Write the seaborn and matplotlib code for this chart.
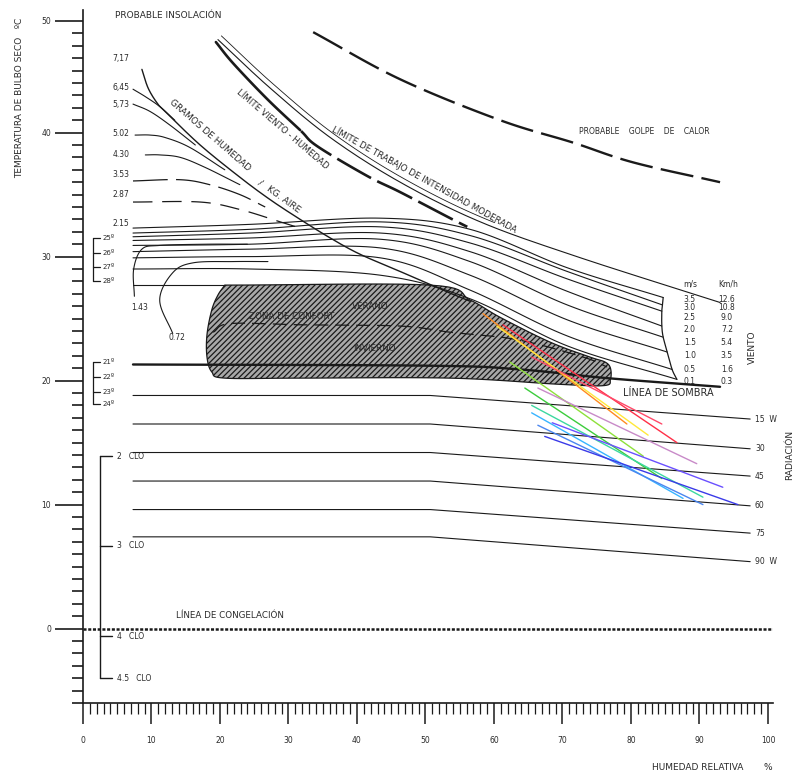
import numpy as np
import pandas as pd
import matplotlib
matplotlib.use("Agg")
import matplotlib.pyplot as plt
import seaborn as sns

sns.set_theme(style="white")
plt.rcParams['font.family'] = ['DejaVu Sans']
plt.rcParams['lines.scale_dashes'] = False
plt.rcParams['hatch.linewidth'] = 0.9
plt.rcParams['hatch.color'] = '#111111'

# ---------------- data (RH %, T ºC) ----------------
golpe_rh = [33.6, 46.3, 60.9, 71.5, 80.3, 93.0]
golpe_t = [48.1, 44.3, 41.0, 39.2, 37.6, 36.0]

viento_hum_rh = [19.4, 21.9, 26.9, 31.7, 34.2, 41.5, 46.3, 53.6, 56.1]
viento_hum_t = [47.3, 45.6, 42.7, 40.2, 38.9, 36.5, 35.2, 33.1, 32.4]

trabajo_rh = [19.7, 27.3, 36.1, 46.3, 58.0, 72.1, 93.0]
trabajo_t = [47.5, 43.6, 39.6, 36.0, 32.8, 30.0, 26.3]

diag_rh = [8.6, 9.5, 10.8, 12.0, 17.1, 22.9, 27.3, 31.7, 36.1, 40.4, 46.3, 52.1, 56.5]
diag_t = [45.1, 43.6, 42.4, 41.7, 39.0, 36.4, 34.6, 33.0, 31.5, 30.2, 28.8, 27.4, 26.4]

hum_labels = ["7,17", "6,45", "5,73", "5.02", "4.30", "3.53", "2.87", "2.15"]
hum_label_t = [46.0, 43.6, 42.3, 39.9, 38.2, 36.6, 35.0, 32.7]
hum_curves = {
    "6,45": ([7.3, 9.1, 11.2, 13.4], [43.5, 42.9, 42.1, 41.0]),
    "5,73": ([7.3, 9.8, 12.7, 16.4], [42.3, 41.7, 40.6, 39.0]),
    "5.02": ([7.6, 9.8, 12.0, 15.6, 20.7], [39.8, 39.8, 39.6, 38.8, 37.0]),
    "4.30": ([9.1, 11.2, 14.2, 17.8, 22.9], [38.2, 38.2, 38.0, 37.2, 35.8]),
    "3.53": ([7.3, 14.2, 18.5, 22.9, 26.6], [36.1, 36.2, 35.8, 35.0, 34.0]),
    "2.87": ([7.3, 17.1, 22.9, 28.8, 31.7], [34.4, 34.4, 33.8, 32.8, 32.3]),
}
c143_rh = [7.5, 7.4, 8.6, 11.2, 18.0, 24.0]
c143_t = [26.8, 29.0, 30.6, 30.9, 31.0, 31.0]
c072_rh = [13.1, 11.2, 13.1, 16.1, 22.0, 27.0]
c072_t = [23.8, 26.5, 28.7, 29.5, 29.6, 29.6]

viento_ms = ["3.5", "3.0", "2.5", "2.0", "1.5", "1.0", "0.5", "0.1"]
viento_kmh = ["12.6", "10.8", "9.0", "7.2", "5.4", "3.5", "1.6", "0.3"]
viento_rh = [7.3, 24.4, 43.4, 56.5, 70.7]
viento_t = [
    [32.3, 32.6, 33.1, 32.2, 29.1],
    [31.9, 32.2, 32.8, 31.7, 28.8],
    [31.6, 31.9, 32.4, 31.1, 28.2],
    [31.3, 31.5, 31.9, 30.4, 27.2],
    [30.9, 31.0, 31.4, 29.6, 26.1],
    [30.4, 30.6, 30.7, 28.5, 24.9],
    [29.9, 30.0, 29.9, 27.3, 23.6],
    [29.0, 29.0, 28.5, 26.6, 22.8],
]
viento_end_rh = [84.7, 84.6, 84.5, 84.5, 84.7, 85.3, 86.0, 86.7]
viento_end_t = [26.7, 26.1, 25.6, 24.4, 23.5, 22.3, 20.9, 20.1]
viento_lbl_t = [26.5, 25.9, 25.1, 24.1, 23.1, 22.0, 20.9, 19.9]

confort_rh = [20.7, 50.7, 56.5, 60.9, 68.2, 74.0, 76.2, 77.0, 77.0, 76.1, 69.6,
              53.6, 31.7, 20.7, 18.8, 18.1, 18.1, 18.8, 19.7]
confort_t = [27.7, 27.7, 26.5, 25.1, 23.1, 21.9, 21.5, 21.0, 20.1, 19.6, 19.7,
             20.2, 20.2, 20.2, 20.7, 21.9, 23.7, 25.7, 26.9]
divisor_rh = [19.0, 21.5, 31.7, 46.3, 53.6, 63.4, 73.0, 76.5]
divisor_t = [23.9, 24.6, 24.5, 24.4, 23.9, 23.3, 21.9, 21.1]

sombra_rh = [7.3, 50.7, 63.8, 76.5, 93.0]
sombra_t = [21.3, 21.2, 20.9, 20.2, 19.5]

rad_labels = ["15  W", "30", "45", "60", "75", "90  W"]
rad_rh = [7.3, 50.7, 97.4]
rad_t_left = [18.8, 16.5, 14.2, 11.9, 9.6, 7.4]
rad_t_right = [16.9, 14.5, 12.3, 9.9, 7.7, 5.4]

temp_sup = ["25º", "26º", "27º", "28º"]
temp_sup_t = [31.5, 30.3, 29.2, 28.0]
temp_inf = ["21º", "22º", "23º", "24º"]
temp_inf_t = [21.5, 20.3, 19.1, 18.1]

clo_labels = ["2   CLO", "3   CLO", "4   CLO", "4.5   CLO"]
clo_t = [13.9, 6.7, -0.6, -4.0]

meses = ["Ene", "Feb", "Mar", "Abr", "May", "Jun", "Jul", "Ago", "Sep", "Oct", "Nov", "Dic"]
mes_rh_ini = [58.4, 60.4, 61.3, 65.5, 62.3, 64.5, 66.4, 65.5, 65.5, 66.4, 68.5, 67.4]
mes_t_ini = [25.4, 24.4, 24.5, 21.9, 21.5, 19.4, 19.4, 18.0, 17.4, 16.4, 16.6, 15.5]
mes_rh_fin = [79.4, 82.5, 86.7, 84.5, 81.8, 84.5, 89.6, 90.5, 87.6, 90.5, 93.4, 95.6]
mes_t_fin = [16.5, 15.6, 15.0, 16.5, 13.9, 12.1, 13.3, 10.6, 10.5, 10.0, 11.4, 10.0]
mes_colores = ["#ff8a20", "#ffe83a", "#ff3048", "#ff4a6a", "#8ee03a", "#3ccc3c",
               "#c88ac8", "#3cd8a0", "#38b4ff", "#4a86f0", "#6a50ff", "#3a3ae8"]


def smooth(xs, ys, n=24):
    pts = np.column_stack([xs, ys]).astype(float)
    if len(pts) < 3:
        return pts[:, 0], pts[:, 1]
    p = np.vstack([2 * pts[0] - pts[1], pts, 2 * pts[-1] - pts[-2]])
    out = []
    t = np.linspace(0, 1, n, endpoint=False)[:, None]
    for i in range(1, len(p) - 2):
        p0, p1, p2, p3 = p[i - 1], p[i], p[i + 1], p[i + 2]
        out.append(0.5 * (2 * p1 + (-p0 + p2) * t + (2 * p0 - 5 * p1 + 4 * p2 - p3) * t ** 2
                          + (-p0 + 3 * p1 - 3 * p2 + p3) * t ** 3))
    out.append(pts[-1:])
    o = np.vstack(out)
    return o[:, 0], o[:, 1]


K = '#1a1a1a'
tc = '#2a2a2a'
fig = plt.figure(figsize=(8.03, 7.73), dpi=100)
ax = fig.add_axes([83 / 803, 1 - 703 / 773, 690 / 803, 693 / 773])
ax.set_xlim(0, 690 / 6.85)
ax.set_ylim(-6, -6 + 693 / 12.4)
for s in ['top', 'right']:
    ax.spines[s].set_visible(False)
for s in ['left', 'bottom']:
    ax.spines[s].set_color(K)
    ax.spines[s].set_linewidth(1.2)

ax.set_yticks([0, 10, 20, 30, 40, 49])
ax.set_yticklabels(['0', '10', '20', '30', '40', '50'])
ax.set_yticks(np.arange(-6, 50, 1), minor=True)
ax.set_xticks(np.arange(0, 101, 10))
ax.set_xticks(np.arange(0, 101, 1), minor=True)
ax.tick_params(axis='y', which='major', direction='out', length=20, width=1.2, color=K,
               labelsize=5.5, pad=3, labelcolor=tc, left=True)
ax.tick_params(axis='y', which='minor', direction='out', length=8, width=1.2, color=K, left=True)
ax.tick_params(axis='x', which='major', direction='out', length=15, width=1.1, color=K,
               labelsize=5.5, pad=9, labelcolor=tc, bottom=True)
ax.tick_params(axis='x', which='minor', direction='out', length=8, width=0.9, color=K, bottom=True)

# comfort zone
ax.fill(*smooth(confort_rh + [confort_rh[0]], confort_t + [confort_t[0]], 10),
        facecolor='#a8a8a8', edgecolor=K, hatch='//////', linewidth=0.9, zorder=2)
x, y = smooth(divisor_rh, divisor_t)
ax.plot(x, y, color=K, lw=0.9, dashes=(10, 5), zorder=3)

# golpe de calor
x, y = smooth(golpe_rh, golpe_t)
ax.plot(x, y, color=K, lw=1.7, dashes=(24, 6))
# limite viento-humedad
x, y = smooth(viento_hum_rh, viento_hum_t)
m = x <= 31.7
ax.plot(x[m], y[m], color=K, lw=1.9)
ax.plot(x[~m], y[~m], color=K, lw=1.9, dashes=(28, 5))
# limite de trabajo
x, y = smooth(trabajo_rh, trabajo_t)
ax.plot(x, y, color=K, lw=0.8)
ax.plot(x[x < 60] + 0.5, y[x < 60] + 0.3, color=K, lw=0.6)

# humidity curves
x, y = smooth(diag_rh, diag_t)
ax.plot(x, y, color=K, lw=1.0)
for lbl, (hx, hy) in hum_curves.items():
    x, y = smooth(hx, hy)
    if lbl == "2.87":
        ax.plot(x, y, color=K, lw=0.9, dashes=(14, 7))
    elif lbl == "3.53":
        ax.plot(x, y, color=K, lw=0.9, dashes=(25, 6))
    else:
        ax.plot(x, y, color=K, lw=0.8)
for lbl, t in zip(hum_labels, hum_label_t):
    ax.text(5.5, t, lbl, fontsize=5.5, ha='center', va='center', color=tc)
for cx, cy in [(c143_rh, c143_t), (c072_rh, c072_t)]:
    x, y = smooth(cx, cy)
    ax.plot(x, y, color=K, lw=0.8)
ax.text(8.3, 25.9, "1.43", fontsize=5.5, ha='center', va='center', color=tc)
ax.text(13.7, 23.5, "0.72", fontsize=5.5, ha='center', va='center', color=tc)

# wind lines
for i, tt in enumerate(viento_t):
    x, y = smooth(viento_rh + [viento_end_rh[i]], tt + [viento_end_t[i]])
    ax.plot(x, y, color=K, lw=0.8)
x, y = smooth(viento_end_rh, viento_end_t)
ax.plot(x, y, color=K, lw=0.9)
ax.plot([7.3, 20.7], [27.7, 27.7], color=K, lw=0.8)
for ms, kmh, t in zip(viento_ms, viento_kmh, viento_lbl_t):
    ax.text(88.6, t, ms, fontsize=5.5, ha='center', va='center', color=tc)
    ax.text(94.0, t, kmh, fontsize=5.5, ha='center', va='center', color=tc)
ax.text(88.6, 27.8, "m/s", fontsize=5.5, ha='center', va='center', color=tc)
ax.text(94.2, 27.8, "Km/h", fontsize=5.5, ha='center', va='center', color=tc)
ax.text(97.7, 22.7, "VIENTO", fontsize=6.5, rotation=90, ha='center', va='center', color=tc)

# shadow line
x, y = smooth(sombra_rh, sombra_t)
ax.plot(x, y, color=K, lw=1.7, zorder=4)
ax.text(85.4, 19.0, "LÍNEA DE SOMBRA", fontsize=7, ha='center', va='center', color=tc)

# radiation lines
for lbl, tl, tr in zip(rad_labels, rad_t_left, rad_t_right):
    ax.plot(rad_rh, [tl, tl, tr], color=K, lw=0.8)
    ax.text(98.1, tr, lbl, fontsize=5.5, ha='left', va='center', color=tc)
ax.text(103.2, 14.0, "RADIACIÓN", fontsize=6.5, rotation=90, ha='center', va='center',
        color=tc, clip_on=False)

# temperature brackets
for labels, ts in [(temp_sup, temp_sup_t), (temp_inf, temp_inf_t)]:
    ax.plot([1.46, 1.46], [ts[0], ts[-1]], color=K, lw=0.9, clip_on=False)
    for lbl, t in zip(labels, ts):
        ax.plot([1.46, 2.5], [t, t], color=K, lw=0.9)
        ax.text(2.9, t, lbl, fontsize=5, ha='left', va='center', color=tc)

# CLO bracket
ax.plot([2.5, 2.5], [clo_t[0], clo_t[-1]], color=K, lw=1.0)
for lbl, t in zip(clo_labels, clo_t):
    ax.plot([2.5, 4.2], [t, t], color=K, lw=1.0)
    ax.text(5.0, t, lbl, fontsize=5.5, ha='left', va='center', color=tc)

# freezing line
ax.plot([0, 100.7], [0, 0], color=K, lw=1.8, dashes=(2.2, 1.2), zorder=5)
ax.text(21.5, 1.05, "LÍNEA DE CONGELACIÓN", fontsize=6.3, ha='center', va='center', color=tc)

# monthly climate lines
rows = []
for mes, r0, t0, r1, t1 in zip(meses, mes_rh_ini, mes_t_ini, mes_rh_fin, mes_t_fin):
    rows.append({"mes": mes, "RH": r0, "T": t0})
    rows.append({"mes": mes, "RH": r1, "T": t1})
df = pd.DataFrame(rows)
sns.lineplot(data=df, x="RH", y="T", hue="mes", palette=dict(zip(meses, mes_colores)),
             estimator=None, sort=False, units="mes", legend=False, lw=1.0, ax=ax, zorder=6)
ax.set_xlabel('')
ax.set_ylabel('')

# text labels
ax.text(4.7, 49.45, "PROBABLE INSOLACIÓN", fontsize=6.5, ha='left', va='center', color=tc)
ax.text(81.9, 40.1, "PROBABLE    GOLPE    DE    CALOR", fontsize=5.5, ha='center', va='center', color=tc)
ax.text(18.5, 39.8, "GRAMOS DE HUMEDAD", fontsize=6.5, rotation=-41, rotation_mode='anchor',
        ha='center', va='center', color=tc)
ax.text(25.8, 36.0, "/", fontsize=6.5, rotation=-40, rotation_mode='anchor', ha='center', va='center', color=tc)
ax.text(29.3, 34.6, "KG. AIRE", fontsize=6.5, rotation=-36, rotation_mode='anchor',
        ha='center', va='center', color=tc)
ax.text(29.1, 40.3, "LÍMITE VIENTO - HUMEDAD", fontsize=6.3, rotation=-40.5, rotation_mode='anchor',
        ha='center', va='center', color=tc)
ax.text(49.8, 36.2, "LÍMITE DE TRABAJO DE INTENSIDAD MODERADA", fontsize=6.3, rotation=-29,
        rotation_mode='anchor', ha='center', va='center', color=tc)
ax.text(30.4, 25.2, "ZONA DE CONFORT", fontsize=6.3, ha='center', va='center', color=tc, zorder=7)
ax.text(41.9, 25.95, "VERANO", fontsize=6.3, ha='center', va='center', color=tc, zorder=7)
ax.text(42.5, 22.6, "INVIERNO", fontsize=6.3, ha='center', va='center', color=tc, zorder=7)

fig.text(652 / 803, 1 - 767 / 773, "HUMEDAD RELATIVA", fontsize=6.5, ha='left', va='center', color=tc)
fig.text(768 / 803, 1 - 767 / 773, "%", fontsize=6.5, ha='center', va='center', color=tc)
fig.text(20 / 803, 1 - 98 / 773, "TEMPERATURA DE BULBO SECO   ºC", fontsize=6.5, rotation=90,
         ha='center', va='center', color=tc)

fig.savefig("out.png", dpi=100, facecolor='white')
